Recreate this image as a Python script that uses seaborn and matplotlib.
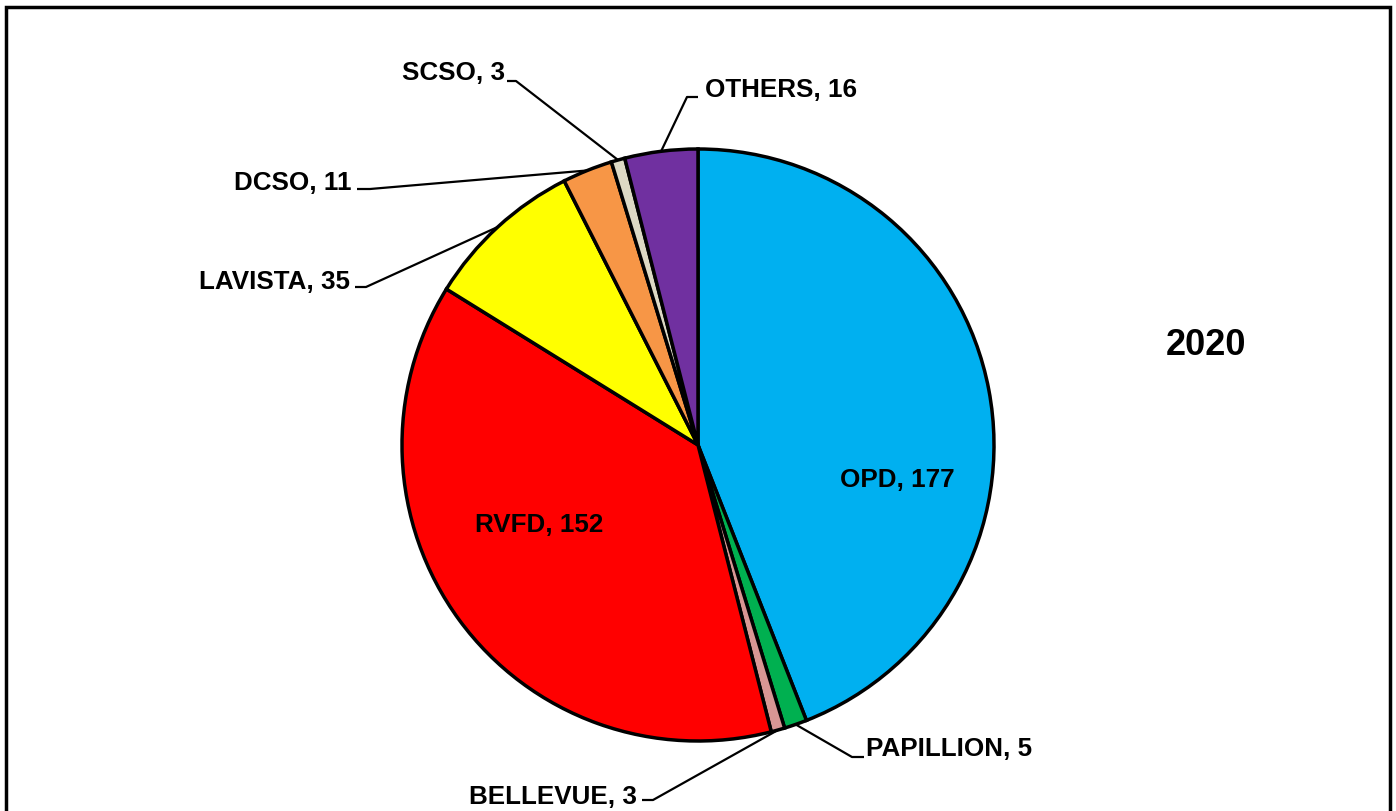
import numpy as np
import matplotlib
matplotlib.use('agg')
import matplotlib.pyplot as plt
import seaborn as sns
from matplotlib.patches import Rectangle

# data
agencies = ['OPD', 'PAPILLION', 'BELLEVUE', 'RVFD', 'LAVISTA', 'DCSO', 'SCSO', 'OTHERS']
counts = [177, 5, 3, 152, 35, 11, 3, 16]
colors = ['#00B0F0', '#00B050', '#D99694', '#FF0000', '#FFFF00', '#F79646', '#DDD9C4', '#7030A0']
year_label = '2020'

W, H = 1396, 812
CX, CY, R = 698, 446, 296   # pie centre / radius in pixels

# label layout in pixels: (text x, text y, ha, kink x, kink y, end x)
OUTSIDE = {
    'PAPILLION': (866, 749, 'left', 852, 758, 864),
    'BELLEVUE': (637, 797, 'right', 653, 801, 642),
    'LAVISTA': (350, 282, 'right', 366, 288, 355),
    'DCSO': (352, 183, 'right', 370, 190, 357),
    'SCSO': (505, 73, 'right', 516, 82, 507),
    'OTHERS': (705, 90, 'left', 687, 98, 698),
}
INSIDE = {'OPD': (897, 480), 'RVFD': (539, 525)}


def px(x, y):
    return (x - CX) / R, (CY - y) / R


sns.set_style('white')
plt.rcParams['font.family'] = ['Liberation Sans', 'DejaVu Sans']

fig = plt.figure(figsize=(W / 100, H / 100), dpi=100)
ax = fig.add_axes([(CX - R) / W, (H - CY - R) / H, 2 * R / W, 2 * R / H])

wedges, _ = ax.pie(counts, colors=colors, startangle=90, counterclock=False,
                   radius=1, wedgeprops=dict(edgecolor='black', linewidth=2.5))
ax.set_xlim(-1, 1)
ax.set_ylim(-1, 1)
ax.set_aspect('equal')
ax.axis('off')

font = dict(fontsize=18.7, fontweight='bold', color='black')

for name, n, w in zip(agencies, counts, wedges):
    label = f'{name}, {n}'
    if name in INSIDE:
        tx, ty = px(*INSIDE[name])
        ax.text(tx, ty, label, ha='center', va='center', **font)
        continue
    tx, ty, ha, kx, ky, ex = OUTSIDE[name]
    mid = np.deg2rad((w.theta1 + w.theta2) / 2)
    ax0, ay0 = np.cos(mid), np.sin(mid)
    k = px(kx, ky)
    e = px(ex, ky)
    ax.plot([ax0, k[0], e[0]], [ay0, k[1], e[1]], color='black', lw=1.6,
            clip_on=False, solid_capstyle='butt')
    t = px(tx, ty)
    ax.text(t[0], t[1], label, ha=ha, va='center', clip_on=False, **font)

fig.text(1206 / W, 1 - 346 / H, year_label, ha='center', va='center',
         fontsize=26, fontweight='bold', color='black')

# outer frame (bottom edge runs off the image)
fig.patches.append(Rectangle((6 / W, -0.05), (1390 - 6) / W, 1.05 - 8 / H,
                             transform=fig.transFigure, fill=False,
                             edgecolor='black', linewidth=2.5))

fig.savefig('out.png', dpi=100, facecolor='white')
